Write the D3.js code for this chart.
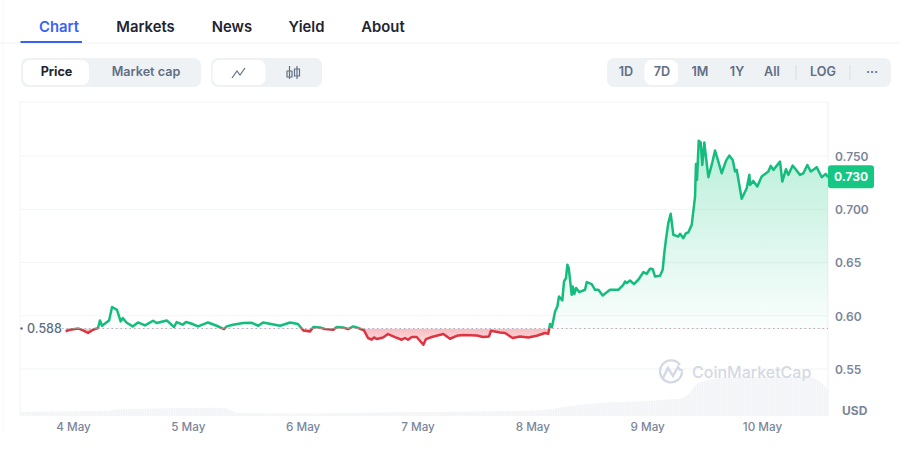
<!DOCTYPE html>
<html>
<head>
<meta charset="utf-8">
<script src="https://cdn.jsdelivr.net/npm/d3@7"></script>
<style>
  html, body { margin: 0; padding: 0; background: #fff; }
  text { font-family: Inter, "Noto Sans", sans-serif; }
</style>
</head>
<body>
<svg id="chart" width="900" height="460"></svg>
<script>
// Data
var priceDays = [3.936,3.974,4.044,4.087,4.131,4.174,4.218,4.235,4.253,4.296,4.314,4.340,4.383,4.415,4.433,4.468,4.520,4.566,4.627,4.697,4.729,4.816,4.880,4.903,4.955,4.984,5.034,5.089,5.176,5.251,5.315,5.338,5.393,5.480,5.556,5.614,5.655,5.803,5.890,5.959,6.006,6.064,6.093,6.151,6.195,6.267,6.296,6.351,6.395,6.441,6.485,6.534,6.569,6.601,6.621,6.647,6.700,6.743,6.804,6.863,6.891,6.917,6.950,6.993,7.051,7.074,7.124,7.225,7.283,7.341,7.396,7.516,7.571,7.623,7.640,7.719,7.762,7.829,7.893,7.965,8.038,8.110,8.139,8.154,8.171,8.198,8.218,8.232,8.261,8.276,8.293,8.305,8.317,8.343,8.352,8.366,8.381,8.409,8.459,8.474,8.517,8.546,8.575,8.613,8.676,8.749,8.792,8.807,8.822,8.851,8.885,8.923,8.967,8.996,9.025,9.048,9.068,9.112,9.135,9.149,9.164,9.184,9.205,9.228,9.271,9.286,9.315,9.338,9.358,9.388,9.417,9.425,9.434,9.449,9.466,9.480,9.498,9.513,9.533,9.562,9.591,9.620,9.649,9.687,9.715,9.745,9.765,9.780,9.823,9.867,9.890,9.896,9.924,9.959,9.997,10.055,10.076,10.099,10.157,10.177,10.209,10.229,10.267,10.331,10.360,10.395,10.424,10.453,10.476,10.520,10.555,10.575];
var priceValues = [.5853,.5869,.5881,.5862,.5838,.5869,.5885,.5956,.5906,.5941,.5956,.6082,.6056,.5947,.5978,.5934,.5900,.5937,.5909,.5953,.5932,.5956,.5894,.5941,.5916,.5941,.5925,.5900,.5937,.5906,.5875,.5900,.5916,.5932,.5934,.5906,.5937,.5906,.5937,.5922,.5862,.5853,.5894,.5890,.5875,.5869,.5894,.5890,.5875,.5900,.5885,.5862,.5791,.5775,.5796,.5781,.5796,.5828,.5800,.5775,.5791,.5775,.5800,.5800,.5728,.5781,.5800,.5828,.5784,.5812,.5819,.5815,.5800,.5806,.5859,.5843,.5838,.5791,.5806,.5796,.5812,.5838,.5831,.5922,.5894,.6040,.6087,.6181,.6144,.6322,.6354,.6478,.6447,.6197,.6275,.6204,.6260,.6222,.6244,.6316,.6297,.6244,.6244,.6190,.6244,.6244,.6291,.6322,.6307,.6331,.6297,.6338,.6410,.6394,.6441,.6438,.6369,.6375,.6431,.6588,.6719,.6870,.6957,.6760,.6744,.6769,.6729,.6776,.6781,.6854,.7119,.7426,.7276,.7644,.7626,.7416,.7626,.7479,.7301,.7416,.7551,.7447,.7338,.7457,.7504,.7463,.7354,.7370,.7098,.7198,.7323,.7229,.7266,.7213,.7307,.7354,.7407,.7370,.7447,.7260,.7376,.7323,.7410,.7323,.7338,.7416,.7354,.7376,.7395,.7301,.7332,.7300];
var volumeDays = [3.54,4.3,4.33,4.49,5.31,5.44,5.97,6.8,7.8,8.1,8.24,8.41,8.6,9.0,9.2,9.27,9.36,9.45,9.7,10.1,10.4,10.47,10.52,10.575];
var volumeAmounts = [42,50,58,70,83,30,25,38,50,60,85,112,130,150,165,170,220,330,385,390,390,370,330,255];

var priceTicks = [0.55, 0.60, 0.65, 0.70, 0.75];
var dayTicks = [4, 5, 6, 7, 8, 9, 10];
var basePrice = 0.588;
var lastPrice = 0.730;

var tabs = ["Chart", "Markets", "News", "Yield", "About"];
var tabCenters = [59, 145.5, 232, 306.5, 383];
var rangeLabels = ["1D", "7D", "1M", "1Y", "All", "LOG", "\u00b7\u00b7\u00b7"];
var rangeCenters = [626, 662, 700, 737, 772, 823, 872];

var green = "#16c784", lineGreen = "#14bd7d", lineRed = "#de3341", red = "#ea3943";
var plotLeft = 20, plotRight = 828, plotTop = 102, plotBottom = 416;

var svg = d3.select("#chart");
var defs = svg.append("defs");

// Scales: days are pinned to the tick labels, prices to the gridlines
var x = d3.scaleLinear().domain([4, 10]).range([73, 762]);
var y = d3.scaleLinear().domain([0.55, 0.75]).range([369, 156]);
var v = d3.scaleLinear().domain([0, 1000]).range([plotBottom, plotBottom - 100]);
var baseY = y(basePrice);

var series = priceDays.map((d, i) => ({ day: d, price: priceValues[i] }));
var volumes = volumeDays.map((d, i) => ({ day: d, amount: volumeAmounts[i] }));

// Gradients and clips
var greenFill = defs.append("linearGradient").attr("id", "greenFill")
  .attr("gradientUnits", "userSpaceOnUse").attr("x1", 0).attr("x2", 0).attr("y1", y(0.765)).attr("y2", baseY);
greenFill.append("stop").attr("offset", 0).attr("stop-color", green).attr("stop-opacity", 0.3);
greenFill.append("stop").attr("offset", 1).attr("stop-color", green).attr("stop-opacity", 0.02);

var redFill = defs.append("linearGradient").attr("id", "redFill")
  .attr("gradientUnits", "userSpaceOnUse").attr("x1", 0).attr("x2", 0).attr("y1", baseY).attr("y2", y(0.565));
redFill.append("stop").attr("offset", 0).attr("stop-color", red).attr("stop-opacity", 0.34);
redFill.append("stop").attr("offset", 1).attr("stop-color", red).attr("stop-opacity", 0.03);

defs.append("clipPath").attr("id", "aboveBase").append("rect")
  .attr("x", plotLeft).attr("y", plotTop).attr("width", plotRight - plotLeft).attr("height", baseY - plotTop);
defs.append("clipPath").attr("id", "belowBase").append("rect")
  .attr("x", plotLeft).attr("y", baseY).attr("width", plotRight - plotLeft).attr("height", plotBottom - baseY);

var stripes = defs.append("pattern").attr("id", "volumeStripes")
  .attr("patternUnits", "userSpaceOnUse").attr("width", 2.4).attr("height", 10);
stripes.append("rect").attr("width", 2.4).attr("height", 10).attr("fill", "#f2f4f7");
stripes.append("rect").attr("width", 0.6).attr("height", 10).attr("fill", "#f9fafc");

// Tabs
svg.append("line").attr("x1", 0).attr("x2", 900).attr("y1", 43).attr("y2", 43).attr("stroke", "#f2f3f6");
svg.append("line").attr("x1", 3).attr("x2", 3).attr("y1", 0).attr("y2", 433).attr("stroke", "#f6f7f9");
svg.selectAll(".tab").data(tabs).join("text")
  .attr("class", "tab")
  .attr("x", (d, i) => tabCenters[i]).attr("y", 32)
  .attr("text-anchor", "middle")
  .attr("font-size", 14.8).attr("font-weight", 600)
  .attr("fill", (d, i) => i === 0 ? "#3861fb" : "#222531")
  .text(d => d);
svg.append("rect").attr("x", 20.5).attr("y", 41).attr("width", 61.5).attr("height", 2).attr("fill", "#3861fb");

// Toggle groups
function pill(px, py, w, h, fill) {
  return svg.append("rect").attr("x", px).attr("y", py).attr("width", w).attr("height", h).attr("rx", 7).attr("fill", fill);
}
function label(txt, cx, color, weight) {
  svg.append("text").attr("x", cx).attr("y", 76).attr("text-anchor", "middle")
    .attr("font-size", 12.6).attr("font-weight", weight).attr("fill", color).text(txt);
}
pill(21, 58, 180, 29, "#eff2f5");
pill(23, 60, 66, 25, "#fff");
label("Price", 56.5, "#222531", 700);
label("Market cap", 146, "#616e85", 600);

pill(211, 58, 111, 29, "#eff2f5");
pill(212.5, 60, 53, 25, "#fff");
svg.append("path").attr("d", "M232 78 L237 71 L240 75 L245 68")
  .attr("fill", "none").attr("stroke", "#616e85").attr("stroke-width", 1.2);
svg.append("g").attr("fill", "none").attr("stroke", "#616e85").attr("stroke-width", 1.2)
  .selectAll("path").data(["M289.5 66 V79 M287 71 H292 V77 H287 Z", "M297 66 V79 M294.5 69 H299.5 V76 H294.5 Z"])
  .join("path").attr("d", d => d);

pill(607, 58, 284, 29, "#eff2f5");
pill(644.5, 60, 33.5, 25, "#fff");
rangeLabels.forEach((d, i) => label(d, rangeCenters[i], "#616e85", 600));
[796, 850].forEach(sx => {
  svg.append("line").attr("x1", sx).attr("x2", sx).attr("y1", 65).attr("y2", 80).attr("stroke", "#d9dde5");
});

// Frame and gridlines
svg.append("line").attr("x1", plotLeft).attr("x2", plotRight).attr("y1", plotTop).attr("y2", plotTop).attr("stroke", "#f3f4f7");
svg.append("line").attr("x1", plotLeft).attr("x2", plotLeft).attr("y1", plotTop).attr("y2", plotBottom).attr("stroke", "#f3f4f7");
svg.append("line").attr("x1", plotRight).attr("x2", plotRight).attr("y1", plotTop).attr("y2", plotBottom).attr("stroke", "#eff1f4");
svg.append("g").selectAll("line").data(priceTicks).join("line")
  .attr("x1", plotLeft).attr("x2", plotRight).attr("y1", d => y(d)).attr("y2", d => y(d)).attr("stroke", "#f3f4f7");

// Volume
svg.append("path").datum(volumes)
  .attr("fill", "url(#volumeStripes)")
  .attr("d", d3.area().x(d => x(d.day)).y0(plotBottom).y1(d => v(d.amount)).curve(d3.curveMonotoneX));

// Watermark
svg.append("g").attr("fill", "none").attr("stroke", "#d3d9e4").attr("stroke-width", 2.4).call(g => {
  g.append("path").attr("d", "M682 372 A11 11 0 1 1 680 365");
  g.append("path").attr("d", "M663 378 L668 368 L673 376 L678 367 Q680 371 683 370");
});
svg.append("text").attr("x", 692).attr("y", 378).attr("font-size", 16).attr("font-weight", 500)
  .attr("fill", "#d3d9e4").text("CoinMarketCap");

// Price area and line, split at the opening price
var area = d3.area().x(d => x(d.day)).y0(baseY).y1(d => y(d.price));
var line = d3.line().x(d => x(d.day)).y(d => y(d.price));

svg.append("path").datum(series).attr("d", area).attr("fill", "url(#greenFill)").attr("clip-path", "url(#aboveBase)");
svg.append("path").datum(series).attr("d", area).attr("fill", "url(#redFill)").attr("clip-path", "url(#belowBase)");

svg.append("line").attr("x1", 62).attr("x2", plotRight).attr("y1", baseY).attr("y2", baseY)
  .attr("stroke", "#a6b0c3").attr("stroke-width", 1).attr("stroke-dasharray", "1.5 3");

svg.append("path").datum(series).attr("d", line).attr("fill", "none")
  .attr("stroke", lineGreen).attr("stroke-width", 2.5).attr("stroke-linejoin", "round").attr("clip-path", "url(#aboveBase)");
svg.append("path").datum(series).attr("d", line).attr("fill", "none")
  .attr("stroke", lineRed).attr("stroke-width", 2.5).attr("stroke-linejoin", "round").attr("clip-path", "url(#belowBase)");

// Opening price label
svg.append("circle").attr("cx", 21.5).attr("cy", baseY).attr("r", 1.2).attr("fill", "#58667e");
svg.append("text").attr("x", 27).attr("y", baseY + 4.5).attr("font-size", 12.5).attr("font-weight", 500)
  .attr("fill", "#616e85").text(d3.format(".3f")(basePrice));

// Axes
var yAxis = d3.axisRight(y).tickValues(priceTicks).tickFormat(d3.format(".3f")).tickSize(0).tickPadding(0);
var gy = svg.append("g").attr("transform", "translate(" + (plotRight + 7) + ",0.5)").call(yAxis);
gy.select(".domain").remove();
gy.selectAll("text").attr("font-size", 12).attr("font-weight", 600).attr("fill", "#7a869b")
  .style("font-family", "Inter, sans-serif")
  .text(d => d === 0.55 || d === 0.6 || d === 0.65 ? d3.format(".2f")(d) : d3.format(".3f")(d));

var xAxis = d3.axisBottom(x).tickValues(dayTicks).tickFormat(d => d + " May").tickSize(0).tickPadding(0);
var gx = svg.append("g").attr("transform", "translate(0," + 423 + ")").call(xAxis);
gx.select(".domain").remove();
gx.selectAll("text").attr("font-size", 11.7).attr("font-weight", 500).attr("fill", "#7a869b")
  .style("font-family", "Inter, sans-serif");

svg.append("text").attr("x", 842).attr("y", 415).attr("font-size", 12).attr("font-weight", 700)
  .attr("fill", "#7a869b").text("USD");

// Last price tag
svg.append("rect").attr("x", plotRight).attr("y", y(lastPrice) - 12).attr("width", 46).attr("height", 23).attr("rx", 3).attr("fill", green);
svg.append("text").attr("x", plotRight + 23).attr("y", y(lastPrice) + 4).attr("text-anchor", "middle")
  .attr("font-size", 12).attr("font-weight", 700).attr("fill", "#fff").text(d3.format(".3f")(lastPrice));
</script>
</body>
</html>
